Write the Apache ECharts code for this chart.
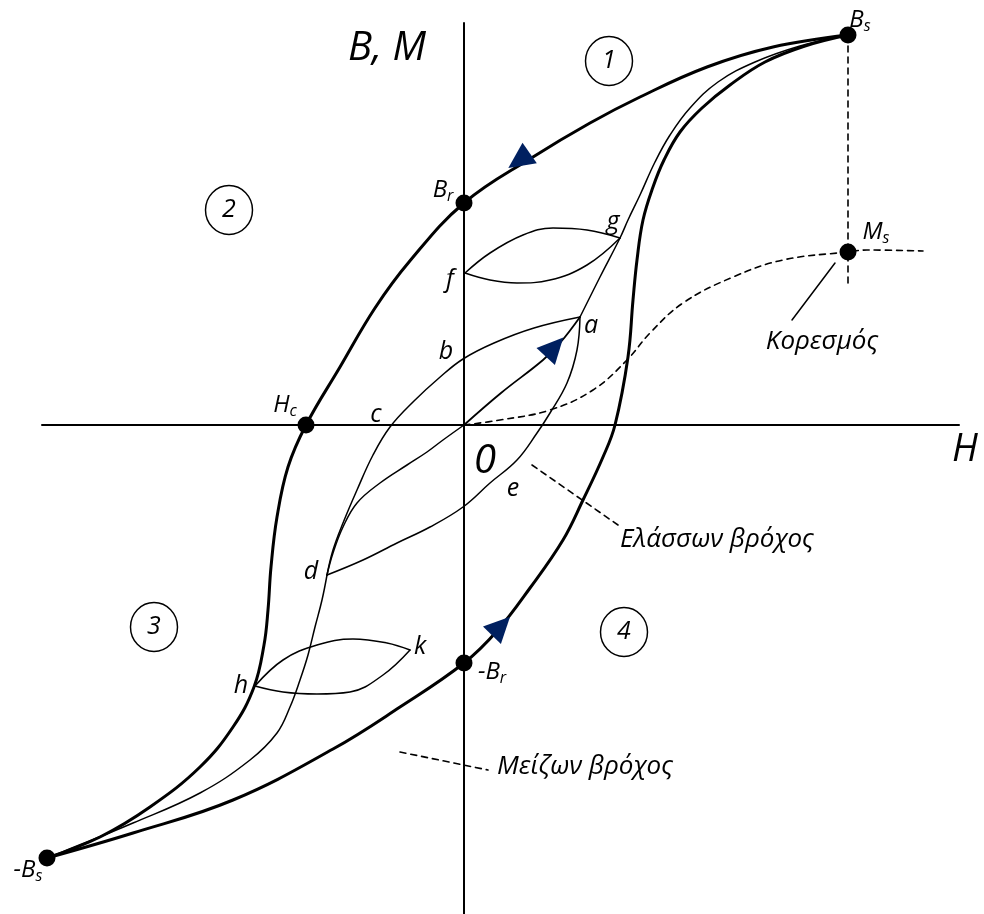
<!DOCTYPE html>
<html>
<head>
<meta charset="utf-8">
<script src="https://cdn.jsdelivr.net/npm/echarts@6/dist/echarts.min.js"></script>
<style>
  html, body { margin: 0; padding: 0; background: #fff; }
  #chart { width: 984px; height: 914px; }
</style>
</head>
<body>
<div id="chart"></div>
<script>
// Hysteresis diagram: H horizontal, B/M vertical, origin at 0.
// All curves are [H, B] pairs in the diagram's own units.

const hAxisLine = [[-422, 0], [495, 0]];
const bAxisLine = [[0, 402], [0, -489]];

// Major loop, descending branch: Bs -> Br -> Hc -> -Bs
const majorDescending = [
  [384, 390], [309, 378], [243, 358], [176, 328], [126, 302], [69, 268],
  [0, 222], [-55, 163], [-89, 117], [-124, 58], [-158, 0], [-176, -42],
  [-187, -92], [-193, -142], [-196, -185], [-200, -220], [-210, -262],
  [-231, -302], [-264, -342], [-314, -382], [-364, -412], [-417, -433]
];

// Major loop, ascending branch: -Bs -> -Br -> Bs
const majorAscending = [
  [-417, -433], [-331, -408], [-231, -375], [-131, -324], [-64, -282],
  [0, -238], [33, -206], [66, -163], [99, -115], [119, -75], [139, -32],
  [151, 0], [164, 68], [169, 125], [173, 165], [179, 205], [189, 238],
  [200, 265], [216, 293], [238, 317], [266, 340], [301, 363], [341, 379], [384, 390]
];

// Inner curve from Bs down through g to a
const innerUpper = [
  [383, 390], [336, 379], [291, 363], [254, 343], [226, 317], [206, 290],
  [191, 263], [176, 230], [164, 205], [156, 187], [136, 148], [116, 108]
];

// Minor loop a-e-d (lower branch)
const minorLowerAED = [
  [116, 108], [113, 75], [103, 42], [86, 12], [73, -8], [53, -35],
  [26, -58], [-1, -82], [-34, -102], [-67, -118], [-101, -135], [-137, -150]
];

// Minor loop d-c-b-a (upper branch)
const minorUpperDCBA = [
  [-137, -150], [-131, -125], [-121, -98], [-107, -65], [-91, -30],
  [-74, -2], [-50, 24], [-25, 47], [-1, 66], [30, 82], [70, 97], [116, 108]
];

// Curve from the origin down to d
const originToD = [
  [0, 0], [-21, -15], [-37, -27], [-57, -40], [-84, -58], [-107, -78],
  [-121, -102], [-131, -128], [-137, -150]
];

// Inner curve from d down to -Bs
const innerLower = [
  [-137, -150], [-142, -175], [-149, -202], [-156, -230], [-164, -255],
  [-174, -282], [-187, -308], [-214, -335], [-264, -368], [-331, -398],
  [-397, -425], [-417, -433]
];

// Initial magnetisation path 0 -> a
const initialCurve = [[0, 0], [37, 32], [79, 65], [96, 82], [116, 108]];

// Minor loop f-g
const loopFGUpper = [[1, 152], [26, 172], [59, 190], [89, 197], [123, 195], [156, 187]];
const loopFGLower = [[1, 152], [26, 145], [53, 142], [86, 145], [123, 160], [156, 187]];

// Minor loop h-k
const loopHKUpper = [[-209, -261], [-181, -235], [-147, -220], [-111, -214], [-77, -218], [-54, -225]];
const loopHKLower = [[-209, -261], [-181, -267], [-147, -269], [-114, -267], [-81, -250], [-54, -225]];

// Magnetisation curve M(H) up to saturation Ms
const magnetisation = [
  [0, 0], [36, 5], [86, 15], [129, 35], [163, 65], [186, 92], [219, 122],
  [269, 148], [319, 165], [383, 173], [403, 175], [459, 174]
];

// Guides and leaders
const saturationDrop = [[384, 390], [384, 142]];
const leaderSaturation = [[371, 162], [328, 105]];
const leaderMinor = [[68, -40], [154, -100]];
const leaderMajor = [[-64, -327], [24, -345]];

// Marked points
const keyPoints = [
  [384, 390],   // Bs
  [0, 222],     // Br
  [-158, 0],    // Hc
  [384, 173],   // Ms
  [0, -238],    // -Br
  [-417, -433]  // -Bs
];

// Direction arrows: position and heading (degrees, direction of travel)
const arrowPoints = [[55, 264.5], [90.5, 78], [37, -201]];
const arrowHeadings = [214.9, 47.4, 45.8];

// Point labels (rich-text markup for subscripts)
const pointLabels = [
  { text: '{m|B}{s|s}', at: [396, 405] },
  { text: '{m|B}{s|r}', at: [-21, 235] },
  { text: '{m|H}{s|c}', at: [-179, 20] },
  { text: '{m|M}{s|s}', at: [412, 193] },
  { text: '{m|-B}{s|r}', at: [28, -247] },
  { text: '{m|-B}{s|s}', at: [-436, -445] },
  { text: '{l|a}', at: [127, 99] },
  { text: '{l|b}', at: [-18, 73] },
  { text: '{l|c}', at: [-88, 10] },
  { text: '{l|d}', at: [-153, -147] },
  { text: '{l|e}', at: [49, -64] },
  { text: '{l|f}', at: [-14, 145] },
  { text: '{l|g}', at: [149, 203] },
  { text: '{l|h}', at: [-223, -261] },
  { text: '{l|k}', at: [-44, -222] },
  { text: '{a|B, M}', at: [-77, 376] },
  { text: '{h|H}', at: [501, -25] },
  { text: '{z|0}', at: [21, -37] },
  { text: '{t|Κορεσμός}', at: [358, 83] },
  { text: '{t|Ελάσσων βρόχος}', at: [253, -115] },
  { text: '{t|Μείζων βρόχος}', at: [121, -342] }
];

// Numbered regions
const regionNumbers = ['1', '2', '3', '4'];
const regionCentres = [[145, 364], [-235, 215], [-310, -202], [160, -207]];

const FONT = '"Open Sans", "Noto Sans", sans-serif';
const INK = '#000';
const ARROW = '#002060';

function curve(data, width, dashed) {
  return {
    type: 'line',
    data: data,
    smooth: 0.4,
    symbol: 'none',
    silent: true,
    z: 2,
    lineStyle: {
      color: INK,
      width: width,
      type: dashed ? [6, 5] : 'solid',
      cap: 'round',
      join: 'round'
    }
  };
}

function segment(data, width, dashed) {
  const s = curve(data, width, dashed);
  s.smooth = false;
  return s;
}

const italic = (size, extra) => Object.assign(
  { fontFamily: FONT, fontStyle: 'italic', fontSize: size, color: INK }, extra || {});

const richStyles = {
  m: italic(24, { lineHeight: 28 }),
  s: italic(16, { lineHeight: 12, verticalAlign: 'bottom' }),
  l: italic(25),
  a: italic(40),
  h: italic(38),
  z: italic(40),
  t: italic(26)
};

const chart = echarts.init(document.getElementById('chart'), null, { renderer: 'canvas' });

chart.setOption({
  animation: false,
  backgroundColor: '#fff',
  grid: { left: 0, right: 0, top: 0, bottom: 0 },
  xAxis: { type: 'value', min: -464, max: 520, show: false },
  yAxis: { type: 'value', min: -489, max: 425, show: false },
  series: [
    segment(hAxisLine, 2),
    segment(bAxisLine, 2),
    curve(majorDescending, 3),
    curve(majorAscending, 3),
    curve(innerUpper, 1.5),
    curve(minorLowerAED, 1.5),
    curve(minorUpperDCBA, 1.5),
    curve(originToD, 1.5),
    curve(innerLower, 1.5),
    curve(initialCurve, 1.8),
    curve(loopFGUpper, 1.5),
    curve(loopFGLower, 1.5),
    curve(loopHKUpper, 1.5),
    curve(loopHKLower, 1.5),
    curve(magnetisation, 1.6, true),
    segment(saturationDrop, 1.6, true),
    segment(leaderSaturation, 1.5),
    segment(leaderMinor, 1.6, true),
    segment(leaderMajor, 1.6, true),
    {
      type: 'scatter',
      data: keyPoints,
      symbol: 'circle',
      symbolSize: 17,
      silent: true,
      z: 5,
      itemStyle: { color: INK, opacity: 1 }
    },
    {
      type: 'scatter',
      data: arrowPoints.map((p, i) => ({ value: p, symbolRotate: arrowHeadings[i] - 90 })),
      symbol: 'triangle',
      symbolSize: [25, 26],
      silent: true,
      z: 6,
      itemStyle: { color: ARROW, opacity: 1 }
    },
    {
      type: 'scatter',
      data: regionCentres.map((p, i) => ({ value: p, name: regionNumbers[i] })),
      symbol: 'circle',
      symbolSize: [47, 49],
      silent: true,
      z: 5,
      itemStyle: { color: 'rgba(255,255,255,0)', borderColor: INK, borderWidth: 1.5, opacity: 1 },
      label: {
        show: true,
        position: 'inside',
        formatter: p => p.name,
        fontFamily: FONT,
        fontStyle: 'italic',
        fontSize: 25,
        color: INK
      }
    },
    {
      type: 'scatter',
      data: pointLabels.map(l => ({ value: l.at, name: l.text })),
      symbolSize: 0,
      silent: true,
      z: 7,
      itemStyle: { color: 'rgba(0,0,0,0)', opacity: 1 },
      label: {
        show: true,
        position: 'inside',
        formatter: p => p.name,
        rich: richStyles
      }
    }
  ]
});
</script>
</body>
</html>
